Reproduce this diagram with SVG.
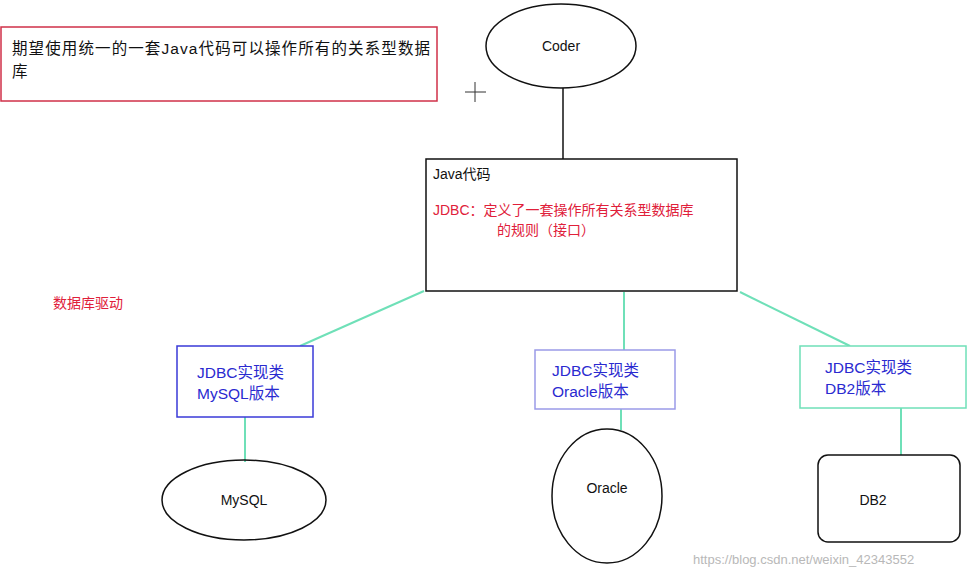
<svg xmlns="http://www.w3.org/2000/svg" width="975" height="577" viewBox="0 0 975 577">
<style>
text{font-family:"Liberation Sans","Noto Sans CJK SC",sans-serif;font-size:14px}
.k{fill:#111}.r{fill:#e0203a}.b{fill:#2a2ad0;font-size:15.5px}
.s{fill:none;stroke:#111;stroke-width:1.5}
.g{stroke:#6fe0b8;stroke-width:2;fill:none}
</style>
<rect width="975" height="577" fill="#fff"/>
<g id="note"><rect x="1" y="27" width="436" height="74" fill="#fff" stroke="#d03048" stroke-width="1.5"/>
<text x="12" y="54" class="k" style="font-size:15.5px" textLength="418" lengthAdjust="spacing">期望使用统一的一套Java代码可以操作所有的关系型数据</text>
<text x="12" y="77" class="k" style="font-size:15.5px">库</text></g>
<g id="cursor" stroke="#333" stroke-width="1"><line x1="465" y1="92" x2="486" y2="92"/><line x1="475" y1="82" x2="475" y2="102"/></g>
<g id="connectors">
<line x1="563" y1="88" x2="563" y2="159" stroke="#111" stroke-width="1.5"/>
<line class="g" x1="424" y1="291" x2="300" y2="346"/>
<line class="g" x1="624" y1="292" x2="624" y2="350"/>
<line class="g" x1="740" y1="292" x2="850" y2="346"/>
<line class="g" x1="245" y1="417" x2="245" y2="462"/>
<line class="g" x1="621" y1="409" x2="621" y2="430"/>
<line class="g" x1="901" y1="408" x2="901" y2="455"/>
</g>
<g id="coder"><ellipse cx="561" cy="46" rx="75" ry="42" class="s" fill="#fff"/><text x="561" y="51" text-anchor="middle" class="k">Coder</text></g>
<g id="java"><rect x="426" y="159" width="311" height="132" class="s"/>
<text x="433" y="179" class="k">Java代码</text>
<text x="433" y="215" class="r">JDBC：定义了一套操作所有关系型数据库</text>
<text x="497" y="235" class="r">的规则（接口）</text></g>
<g id="driver"><text x="53" y="308" class="r">数据库驱动</text></g>
<g id="mysqlimpl"><rect x="177" y="346" width="136" height="71" fill="#fff" stroke="#3a3ad8" stroke-width="1.5"/>
<text x="197" y="378" class="b">JDBC实现类</text><text x="197" y="399" class="b">MySQL版本</text></g>
<g id="oracleimpl"><rect x="535" y="350" width="140" height="59" fill="#fff" stroke="#9a9ae8" stroke-width="1.5"/>
<text x="552" y="376" class="b">JDBC实现类</text><text x="552" y="397" class="b">Oracle版本</text></g>
<g id="db2impl"><rect x="800" y="346" width="166" height="62" fill="#fff" stroke="#6fe0b8" stroke-width="1.5"/>
<text x="825" y="373" class="b">JDBC实现类</text><text x="825" y="394" class="b">DB2版本</text></g>
<g id="mysql"><ellipse cx="244" cy="500" rx="82" ry="40" class="s" fill="#fff"/><text x="244" y="505" text-anchor="middle" class="k">MySQL</text></g>
<g id="oracle"><ellipse cx="607" cy="496" rx="55" ry="67" class="s" fill="#fff"/><text x="607" y="493" text-anchor="middle" class="k">Oracle</text></g>
<g id="db2"><rect x="818" y="455" width="142" height="87" rx="10" class="s" fill="#fff"/><text x="873" y="505" text-anchor="middle" class="k">DB2</text></g>
<text x="693" y="564" fill="#b8b8b8" style="font-size:13px">https://blog.csdn.net/weixin_42343552</text>
</svg>
